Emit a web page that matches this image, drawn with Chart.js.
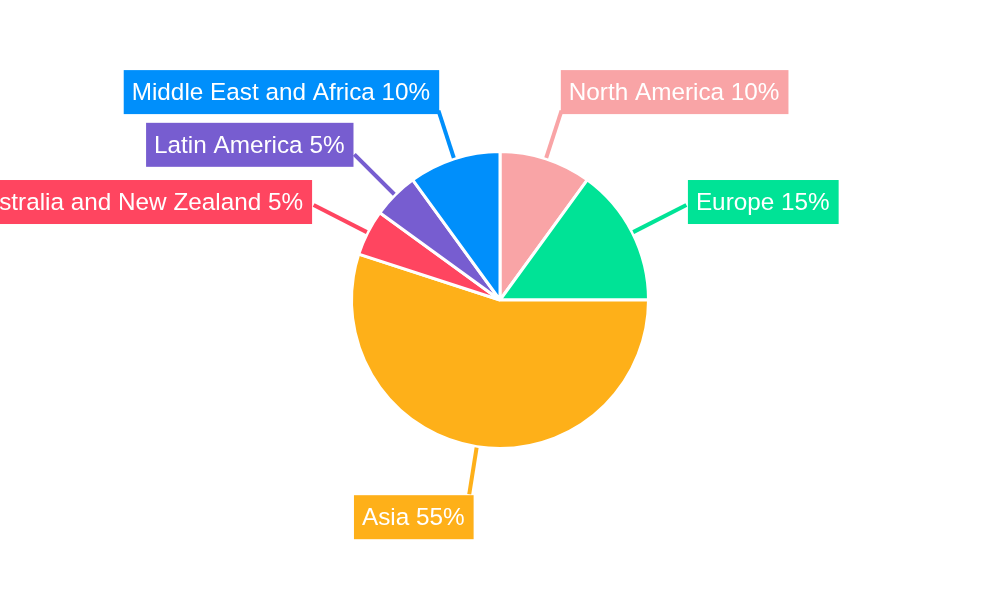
<!DOCTYPE html>
<html>
<head>
<meta charset="utf-8">
<script src="https://cdn.jsdelivr.net/npm/chart.js@4/dist/chart.umd.min.js"></script>
<style>
  html, body { margin: 0; padding: 0; background: #fff; }
  #wrap { width: 1000px; height: 600px; position: relative; }
</style>
</head>
<body>
<div id="wrap"><canvas id="chart"></canvas></div>
<script>
// Region shares (percent), clockwise from 12 o'clock
const regions = ['North America', 'Europe', 'Asia', 'Australia and New Zealand', 'Latin America', 'Middle East and Africa'];
const shares = [10, 15, 55, 5, 5, 10];
const sliceColors = ['#F9A4A6', '#00E396', '#FEB019', '#FF4560', '#775DD0', '#008FFB'];

// Callout labels: leader line from the slice edge, then a filled box
const calloutPlugin = {
  id: 'callouts',
  afterDatasetsDraw(chart) {
    const ctx = chart.ctx;
    const meta = chart.getDatasetMeta(0);
    ctx.save();
    ctx.font = '24.3px "Liberation Sans", Arial, sans-serif';
    ctx.textBaseline = 'middle';
    meta.data.forEach((arc, i) => {
      const mid = (arc.startAngle + arc.endAngle) / 2;
      const dx = Math.cos(mid), dy = Math.sin(mid);
      const r0 = arc.outerRadius + 1;
      const r1 = 194 + 17 * Math.abs(dx);
      const x0 = arc.x + dx * r0, y0 = arc.y + dy * r0;
      const x1 = arc.x + dx * r1, y1 = arc.y + dy * r1;
      const color = sliceColors[i];

      ctx.strokeStyle = color;
      ctx.lineWidth = 4;
      ctx.beginPath();
      ctx.moveTo(x0, y0);
      ctx.lineTo(x1, y1);
      ctx.stroke();

      const text = regions[i] + ' ' + shares[i] + '%';
      const w = ctx.measureText(text).width + 17;
      const h = 44;
      let bx;
      if (dx >= 0) {
        bx = x1 - 2 + 4 * Math.abs(dx);
      } else {
        bx = x1 + 2 - 4 * Math.abs(dx) - w + (dy > 0.9 ? 3 : 0);
      }
      const cy = y1 + dy * Math.abs(dy) * 22 + 1.5;
      ctx.fillStyle = color;
      ctx.fillRect(bx, cy - h / 2, w, h);
      ctx.fillStyle = '#ffffff';
      ctx.textAlign = 'left';
      ctx.fillText(text, bx + 8, cy + 1);
    });
    ctx.restore();
  }
};

new Chart(document.getElementById('chart'), {
  type: 'pie',
  data: {
    labels: regions,
    datasets: [{
      data: shares,
      backgroundColor: sliceColors,
      borderColor: '#ffffff',
      borderWidth: 3,
      hoverOffset: 0
    }]
  },
  options: {
    responsive: true,
    maintainAspectRatio: false,
    animation: false,
    layout: { padding: { top: 150, bottom: 150 } },
    plugins: {
      legend: { display: false },
      tooltip: { enabled: false }
    }
  },
  plugins: [calloutPlugin]
});
</script>
</body>
</html>
